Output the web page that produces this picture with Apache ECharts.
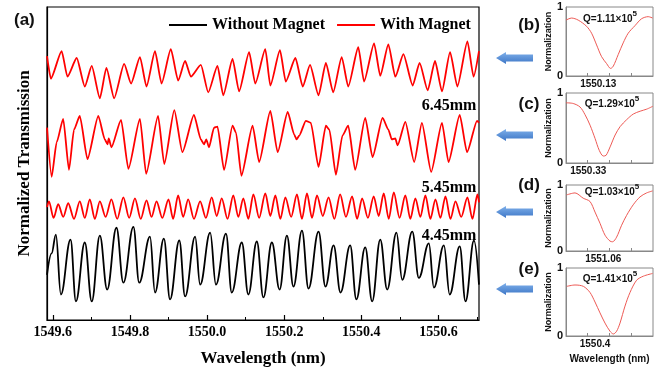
<!DOCTYPE html>
<html>
<head>
<meta charset="utf-8">
<script src="https://cdn.jsdelivr.net/npm/echarts@6/dist/echarts.min.js"></script>
<style>html,body{margin:0;padding:0;background:#fff}#c{width:667px;height:372px}</style>
</head>
<body>
<div id="c"></div>
<script>
// ---- main panel (a): wavelength (nm) and stacked normalized transmission (a.u.) ----
const wlTop = [1549.585,1549.595,1549.623,1549.638,1549.662,1549.683,1549.701,1549.722,1549.739,1549.759,1549.785,1549.803,1549.826,1549.843,1549.865,1549.882,1549.906,1549.925,1549.943,1549.958,1549.984,1550.003,1550.027,1550.042,1550.066,1550.083,1550.109,1550.125,1550.151,1550.164,1550.189,1550.204,1550.229,1550.248,1550.267,1550.289,1550.308,1550.327,1550.349,1550.366,1550.392,1550.407,1550.433,1550.449,1550.470,1550.488,1550.509,1550.533,1550.551,1550.572,1550.591,1550.609,1550.630,1550.649,1550.675,1550.691,1550.705];
const tTop = [2.69,2.46,2.74,2.48,2.67,2.38,2.59,2.26,2.57,2.26,2.61,2.41,2.68,2.38,2.74,2.41,2.76,2.44,2.64,2.48,2.60,2.32,2.59,2.29,2.66,2.33,2.73,2.41,2.76,2.39,2.75,2.43,2.67,2.38,2.60,2.29,2.62,2.32,2.68,2.38,2.78,2.43,2.82,2.49,2.81,2.48,2.71,2.39,2.62,2.34,2.64,2.33,2.73,2.38,2.84,2.48,2.74];

const wlMid = [1549.585,1549.597,1549.610,1549.627,1549.642,1549.655,1549.670,1549.690,1549.718,1549.735,1549.742,1549.745,1549.752,1549.777,1549.796,1549.826,1549.842,1549.873,1549.889,1549.915,1549.936,1549.966,1549.984,1549.992,1549.998,1550.005,1550.018,1550.027,1550.044,1550.066,1550.075,1550.089,1550.118,1550.135,1550.164,1550.183,1550.209,1550.226,1550.232,1550.239,1550.256,1550.269,1550.289,1550.308,1550.317,1550.334,1550.351,1550.366,1550.384,1550.410,1550.429,1550.455,1550.470,1550.479,1550.488,1550.494,1550.514,1550.537,1550.557,1550.581,1550.609,1550.626,1550.655,1550.674,1550.700,1550.705];
const tMid = [1.96,1.46,1.81,2.05,1.53,1.94,2.08,1.64,2.08,1.84,1.79,1.85,1.76,2.04,1.54,2.05,1.49,2.08,1.59,2.14,1.71,2.09,1.84,1.79,1.84,1.76,1.96,1.97,1.53,1.98,1.91,1.47,1.98,1.61,2.13,1.71,2.12,1.89,1.84,1.88,2.03,2.01,1.56,1.98,1.94,1.48,1.88,1.98,1.53,2.06,1.66,2.06,1.94,1.84,1.85,1.78,2.02,1.61,2.01,1.51,2.01,1.61,2.09,1.71,2.03,2.01];

const wlLowPeak = [1549.590,1549.614,1549.640,1549.670,1549.696,1549.722,1549.752,1549.783,1549.813,1549.843,1549.869,1549.900,1549.925,1549.951,1549.982,1550.012,1550.038,1550.068,1550.094,1550.120,1550.151,1550.177,1550.203,1550.233,1550.259,1550.285,1550.315,1550.345,1550.376,1550.402,1550.432,1550.458,1550.484,1550.514,1550.540,1550.566,1550.592,1550.618,1550.644,1550.675,1550.701];
const tLowPeak = [1.21,1.18,1.19,1.21,1.23,1.21,1.23,1.25,1.24,1.22,1.21,1.23,1.27,1.23,1.21,1.25,1.24,1.27,1.24,1.28,1.29,1.27,1.25,1.28,1.29,1.27,1.25,1.28,1.26,1.24,1.26,1.29,1.30,1.27,1.24,1.27,1.23,1.26,1.21,1.25,1.28];
const wlLowDip = [1549.585,1549.602,1549.627,1549.655,1549.683,1549.709,1549.737,1549.767,1549.798,1549.828,1549.856,1549.884,1549.912,1549.938,1549.966,1549.997,1550.025,1550.053,1550.081,1550.107,1550.135,1550.164,1550.190,1550.218,1550.246,1550.272,1550.300,1550.330,1550.360,1550.389,1550.417,1550.445,1550.471,1550.499,1550.527,1550.553,1550.579,1550.605,1550.631,1550.659,1550.688,1550.705];
const tLowDip = [1.15,1.04,1.05,1.03,1.04,1.03,1.05,1.03,1.04,1.03,1.05,1.04,1.03,1.05,1.03,1.04,1.06,1.03,1.05,1.03,1.04,1.06,1.03,1.05,1.03,1.04,1.06,1.03,1.05,1.03,1.04,1.06,1.03,1.04,1.03,1.05,1.03,1.04,1.03,1.05,1.03,1.20];

const wlBase = [1549.585,1549.597,1549.608,1549.621,1549.646,1549.660,1549.683,1549.701,1549.722,1549.741,1549.765,1549.783,1549.809,1549.824,1549.852,1549.865,1549.888,1549.904,1549.928,1549.943,1549.969,1549.982,1550.008,1550.023,1550.049,1550.064,1550.090,1550.107,1550.129,1550.146,1550.168,1550.188,1550.207,1550.224,1550.246,1550.263,1550.289,1550.307,1550.328,1550.346,1550.371,1550.387,1550.410,1550.428,1550.449,1550.467,1550.491,1550.506,1550.532,1550.549,1550.575,1550.588,1550.614,1550.629,1550.655,1550.670,1550.692,1550.705];
const tBase = [0.46,0.68,0.87,0.26,0.82,0.19,0.79,0.19,0.86,0.31,0.94,0.38,0.95,0.38,0.85,0.28,0.83,0.21,0.81,0.24,0.85,0.36,0.89,0.36,0.88,0.28,0.79,0.26,0.80,0.23,0.79,0.31,0.86,0.34,0.91,0.32,0.90,0.34,0.76,0.28,0.76,0.21,0.74,0.19,0.82,0.31,0.89,0.41,0.90,0.43,0.78,0.33,0.76,0.26,0.75,0.19,0.81,0.36];

const mainLabelTicks = [1549.6,1549.8,1550.0,1550.2,1550.4,1550.6];
const mainMinorTicks = [1549.7,1549.9,1550.1,1550.3,1550.5,1550.7];
const gapLabels = ['6.45mm','5.45mm','4.45mm'];

// ---- zoomed resonances (b)-(e): wavelength (nm) and normalized transmission ----
const wlB = [1550.1139,1550.1167,1550.1200,1550.1242,1550.1267,1550.1292,1550.1317,1550.1342,1550.1362,1550.1375,1550.1400,1550.1425,1550.1450,1550.1484,1550.1517,1550.1550,1550.1572];
const nB  = [0.81,0.84,0.81,0.72,0.62,0.45,0.28,0.18,0.11,0.14,0.31,0.48,0.62,0.73,0.83,0.86,0.84];
const wlC = [1550.3189,1550.3225,1550.3259,1550.3284,1550.3309,1550.3334,1550.3355,1550.3375,1550.3389,1550.3409,1550.3434,1550.3459,1550.3492,1550.3525,1550.3559,1550.3592,1550.3622];
const nC  = [0.86,0.85,0.80,0.69,0.54,0.35,0.18,0.10,0.11,0.23,0.40,0.52,0.62,0.70,0.74,0.77,0.81];
const wlD = [1551.0417,1551.0459,1551.0500,1551.0534,1551.0559,1551.0584,1551.0609,1551.0634,1551.0647,1551.0667,1551.0692,1551.0717,1551.0750,1551.0784,1551.0817,1551.0847];
const nD  = [0.85,0.88,0.80,0.75,0.59,0.42,0.24,0.15,0.14,0.21,0.39,0.54,0.70,0.82,0.88,0.91];
const wlE = [1550.3859,1550.3900,1550.3942,1550.3975,1550.4000,1550.4025,1550.4050,1550.4075,1550.4092,1550.4108,1550.4125,1550.4150,1550.4175,1550.4208,1550.4242,1550.4288];
const nE  = [0.73,0.75,0.73,0.64,0.50,0.34,0.19,0.07,0.03,0.07,0.19,0.44,0.64,0.82,0.88,0.92];
const panelRanges = [[1550.1139,1550.1574],[1550.3189,1550.3623],[1551.0414,1551.0849],[1550.3855,1550.4290]];
const panelCenters = [1550.13,1550.33,1551.06,1550.4];
const panelCenterText = ['1550.13','1550.33','1551.06','1550.4'];
const panelQ = ['1.11','1.29','1.03','1.41'];
const panelTags = ['(b)','(c)','(d)','(e)'];

function zip(a,b){return a.map((x,i)=>[x,b[i]]);}
const lowData = zip(wlLowPeak,tLowPeak).concat(zip(wlLowDip,tLowDip)).sort((p,q)=>p[0]-q[0]);

const SERIF = '"Liberation Serif","Times New Roman",serif';
const SANS = '"Liberation Sans",Arial,sans-serif';

const chart = echarts.init(document.getElementById('c'), null, {renderer:'canvas'});

const grids = [{left:47, top:7, width:432, height:319, show:true, borderColor:'#000', borderWidth:1.2}];
const panelTops = [7,93,185,268];
const panelHeights = [69,70,66,68];
panelTops.forEach((t,i)=>grids.push({left:566, top:t, width:87, height:panelHeights[i], show:true, borderColor:'#888', borderWidth:1}));

const xAxes = [
  {gridIndex:0, type:'value', min:1549.585, max:1550.705,
   axisLine:{lineStyle:{color:'#000',width:1.2}},
   axisTick:{inside:true, length:5, customValues:mainLabelTicks, lineStyle:{color:'#000',width:1.2}},
   axisLabel:{customValues:mainLabelTicks, formatter:v=>v.toFixed(1), color:'#000', fontFamily:SERIF, fontWeight:'bold', fontSize:14, margin:5},
   splitLine:{show:false},
   name:'Wavelength (nm)', nameLocation:'middle', nameGap:30,
   nameTextStyle:{color:'#000', fontFamily:SERIF, fontWeight:'bold', fontSize:17}},
  {gridIndex:0, type:'value', min:1549.585, max:1550.705, position:'bottom',
   axisLine:{show:false}, axisLabel:{show:false}, splitLine:{show:false},
   axisTick:{inside:true, length:3, customValues:mainMinorTicks, lineStyle:{color:'#000',width:1}}}
];
const yAxes = [
  {gridIndex:0, type:'value', min:0, max:3.19,
   axisLine:{show:true, lineStyle:{color:'#000',width:1.2}}, axisTick:{show:false}, axisLabel:{show:false}, splitLine:{show:false},
   name:'Normalized Transmission', nameLocation:'middle', nameGap:14,
   nameTextStyle:{color:'#000', fontFamily:SERIF, fontWeight:'bold', fontSize:17}}
];
panelRanges.forEach((r,i)=>{
  const span = r[1]-r[0];
  xAxes.push({gridIndex:i+1, type:'value', min:r[0], max:r[1],
    axisLine:{lineStyle:{color:'#888'}},
    axisTick:{inside:true, length:3, customValues:[r[0]+span*0.25,r[0]+span*0.5,r[0]+span*0.75], lineStyle:{color:'#888'}},
    axisLabel:{customValues:[panelCenters[i]], formatter:()=>panelCenterText[i], color:'#111', fontFamily:SANS, fontWeight:'bold', fontSize:10, margin:3},
    splitLine:{show:false},
    name: i===3 ? 'Wavelength (nm)' : '', nameLocation:'middle', nameGap:18,
    nameTextStyle:{color:'#111', fontFamily:SANS, fontWeight:'bold', fontSize:10}});
  yAxes.push({gridIndex:i+1, type:'value', min:0, max:1, interval:1,
    axisLine:{lineStyle:{color:'#888'}}, axisTick:{show:false}, splitLine:{show:false},
    axisLabel:{color:'#111', fontFamily:SANS, fontWeight:'bold', fontSize:11, margin:3},
    name:'Normalization', nameLocation:'middle', nameGap:12,
    nameTextStyle:{color:'#111', fontFamily:SANS, fontWeight:'bold', fontSize:9}});
});

const series = [
  {name:'Without Magnet', type:'line', xAxisIndex:0, yAxisIndex:0, data:zip(wlBase,tBase), symbol:'none', smooth:0.4, smoothMonotone:'x', lineStyle:{color:'#000', width:1.8}, itemStyle:{color:'#000'}},
  {name:'With Magnet', type:'line', xAxisIndex:0, yAxisIndex:0, data:zip(wlTop,tTop), symbol:'none', smooth:0.2, smoothMonotone:'x', lineStyle:{color:'#ff0000', width:1.8}, itemStyle:{color:'#ff0000'}},
  {name:'With Magnet', type:'line', xAxisIndex:0, yAxisIndex:0, data:zip(wlMid,tMid), symbol:'none', smooth:0.2, smoothMonotone:'x', lineStyle:{color:'#ff0000', width:1.8}, itemStyle:{color:'#ff0000'}},
  {name:'With Magnet', type:'line', xAxisIndex:0, yAxisIndex:0, data:lowData, symbol:'none', smooth:0.3, smoothMonotone:'x', lineStyle:{color:'#ff0000', width:1.8}, itemStyle:{color:'#ff0000'}}
];
[[wlB,nB],[wlC,nC],[wlD,nD],[wlE,nE]].forEach((p,i)=>{
  series.push({type:'line', xAxisIndex:i+2, yAxisIndex:i+1, data:zip(p[0],p[1]), symbol:'none', smooth:0.3, silent:true,
    lineStyle:{color:'#ee5a55', width:1}});
});

const graphic = [];
graphic.push({type:'text', left:14, top:12, style:{text:'(a)', fill:'#111', font:'bold 17px '+SANS}});
const gapY = [106,188,236];
gapLabels.forEach((t,i)=>graphic.push({type:'text', x:449, y:gapY[i], style:{text:t, fill:'#000', font:'bold 16px '+SERIF, align:'center', verticalAlign:'middle'}}));
const arrowY = [58,135,212,289];
arrowY.forEach(y=>graphic.push({type:'polygon', shape:{points:[[496,y],[506,y-6],[506,y-3.5],[533,y-3.5],[533,y+3.5],[506,y+3.5],[506,y+6]]},
  style:{fill:new echarts.graphic.LinearGradient(0,0,0,1,[{offset:0,color:'#7fb0ea'},{offset:1,color:'#3d76c6'}])}}));
const tagY = [25,104,185,269];
panelTags.forEach((t,i)=>graphic.push({type:'text', x:529, y:tagY[i], style:{text:t, fill:'#111', font:'bold 17px '+SANS, align:'center', verticalAlign:'middle'}}));
const qY = [17,102,190,277];
const qX = [610,612,612,610];
panelQ.forEach((q,i)=>graphic.push({type:'text', x:qX[i], y:qY[i], style:{
  text:'{m|Q='+q+'×10}{s|5}', align:'center', verticalAlign:'middle',
  rich:{m:{font:'bold 10px '+SANS, fill:'#111', verticalAlign:'bottom'}, s:{font:'bold 8px '+SANS, fill:'#111', verticalAlign:'top', padding:[0,0,6,0]}}}}));

chart.setOption({
  animation:false,
  backgroundColor:'#fff',
  grid:grids,
  xAxis:xAxes,
  yAxis:yAxes,
  legend:{data:['Without Magnet','With Magnet'], left:164, top:12, icon:'rect', itemWidth:38, itemHeight:2, itemGap:12,
    textStyle:{color:'#000', fontFamily:SERIF, fontWeight:'bold', fontSize:16}},
  series:series,
  graphic:graphic
});
</script>
</body>
</html>
